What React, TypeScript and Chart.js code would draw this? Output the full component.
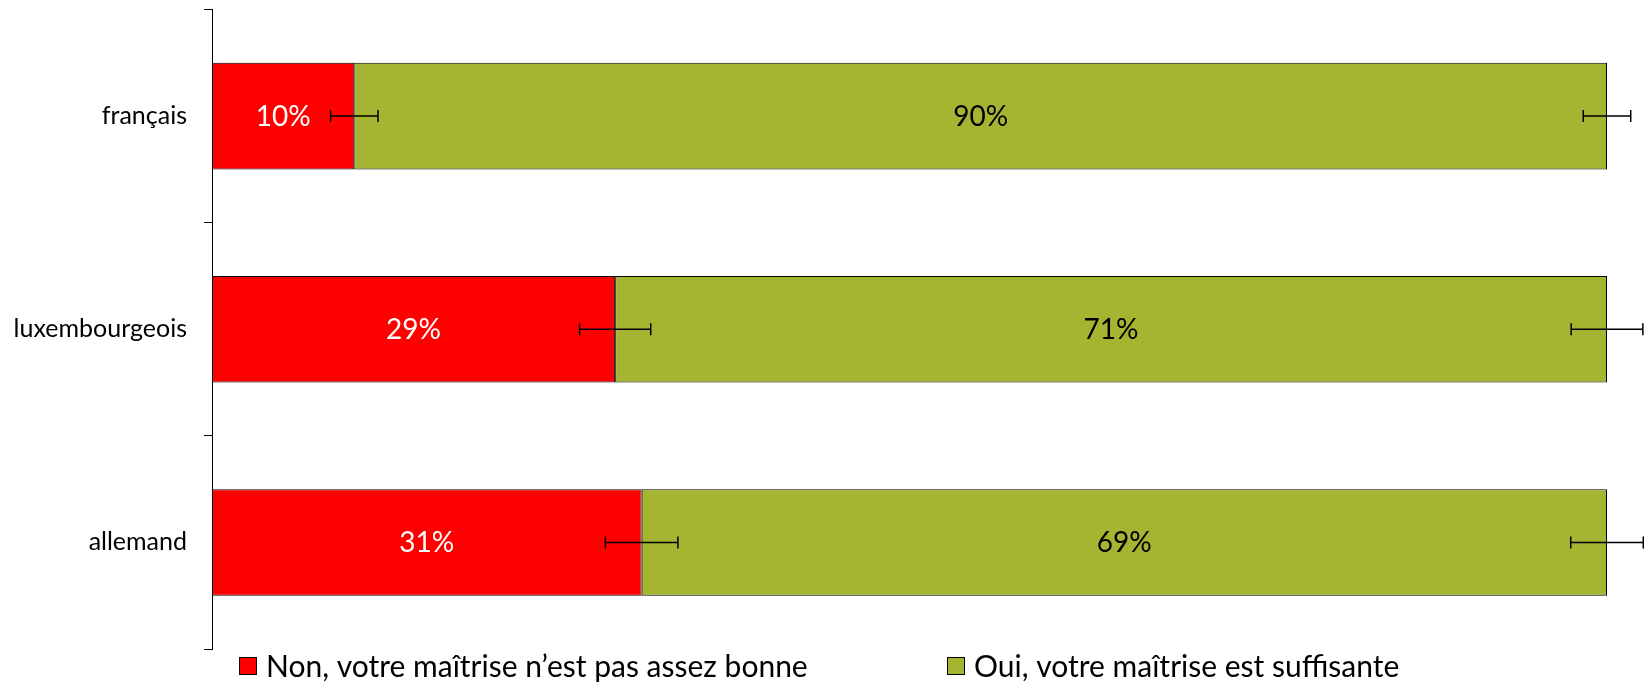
import React, { useEffect, useRef } from "react";
import { Chart, registerables } from "chart.js";
Chart.register(...registerables);

const categories = ["français", "luxembourgeois", "allemand"];
const seriesLabels = [
  "Non, votre maîtrise n’est pas assez bonne",
  "Oui, votre maîtrise est suffisante",
];
const nonValues = [10.2, 28.9, 30.8];
const ouiValues = [89.8, 71.1, 69.2];
const nonErrors = [1.7, 2.55, 2.6];
const ouiErrors = [1.7, 2.57, 2.6];
const nonLabels = ["10%", "29%", "31%"];
const ouiLabels = ["90%", "71%", "69%"];

const RED = "#FF0000";
const GREEN = "rgb(165,181,50)";
const FONT = "Lato, 'Open Sans', sans-serif";

const errorsBySeries = [nonErrors, ouiErrors];
const labelsBySeries = [nonLabels, ouiLabels];
const labelColors = ["#FFFFFF", "#000000"];

const errorBarPlugin = {
  id: "errorBars",
  afterDatasetsDraw(chart: any) {
    const ctx = chart.ctx;
    const xScale = chart.scales.x;
    ctx.save();
    ctx.strokeStyle = "#000";
    ctx.lineWidth = 1.5;
    chart.data.datasets.forEach((ds: any, d: number) => {
      const meta = chart.getDatasetMeta(d);
      meta.data.forEach((el: any, j: number) => {
        let cum = 0;
        for (let k = 0; k <= d; k++) cum += chart.data.datasets[k].data[j];
        const err = errorsBySeries[d][j];
        const x1 = xScale.getPixelForValue(cum - err);
        const x2 = xScale.getPixelForValue(cum + err);
        const y = el.y;
        const cap = 6;
        ctx.beginPath();
        ctx.moveTo(x1, y);
        ctx.lineTo(x2, y);
        ctx.moveTo(x1, y - cap);
        ctx.lineTo(x1, y + cap);
        ctx.moveTo(x2, y - cap);
        ctx.lineTo(x2, y + cap);
        ctx.stroke();
      });
    });
    ctx.restore();
  },
};

const dataLabelPlugin = {
  id: "segLabels",
  afterDatasetsDraw(chart: any) {
    const ctx = chart.ctx;
    ctx.save();
    ctx.font = `28px ${FONT}`;
    ctx.textAlign = "center";
    ctx.textBaseline = "middle";
    chart.data.datasets.forEach((ds: any, d: number) => {
      const meta = chart.getDatasetMeta(d);
      meta.data.forEach((el: any, j: number) => {
        const p = el.getCenterPoint();
        ctx.fillStyle = labelColors[d];
        ctx.fillText(labelsBySeries[d][j], p.x, p.y + 1);
      });
    });
    ctx.restore();
  },
};

const legendPlugin = {
  id: "customLegend",
  afterDraw(chart: any) {
    const ctx = chart.ctx;
    ctx.save();
    ctx.font = `30px ${FONT}`;
    ctx.textBaseline = "middle";
    ctx.textAlign = "left";
    const boxXs = [231, 939];
    const boxY = 649;
    const box = 18;
    chart.data.datasets.forEach((ds: any, d: number) => {
      const bx = boxXs[d];
      ctx.fillStyle = ds.backgroundColor;
      ctx.fillRect(bx, boxY, box, box);
      ctx.strokeStyle = "#000";
      ctx.lineWidth = 1;
      ctx.strokeRect(bx + 0.5, boxY + 0.5, box - 1, box - 1);
      ctx.fillStyle = "#000";
      ctx.fillText(ds.label, bx + box + 9, boxY + box / 2 + 1);
    });
    ctx.restore();
  },
};

export default function App() {
  const ref = useRef<HTMLCanvasElement>(null);
  useEffect(() => {
    if (!ref.current) return;
    const chart = new Chart(ref.current, {
      type: "bar",
      data: {
        labels: categories,
        datasets: [
          {
            label: seriesLabels[0],
            data: nonValues,
            backgroundColor: RED,
            borderColor: "#000",
            borderWidth: 1,
            borderSkipped: false,
            categoryPercentage: 0.5,
            barPercentage: 1,
          },
          {
            label: seriesLabels[1],
            data: ouiValues,
            backgroundColor: GREEN,
            borderColor: "#000",
            borderWidth: 1,
            borderSkipped: false,
            categoryPercentage: 0.5,
            barPercentage: 1,
          },
        ],
      },
      options: {
        indexAxis: "y",
        responsive: false,
        animation: false,
        layout: { padding: { top: 1.5, right: 38, bottom: 37, left: 0 } },
        plugins: {
          legend: { display: false },
          tooltip: { enabled: false },
        },
        scales: {
          x: {
            stacked: true,
            min: 0,
            max: 100,
            display: false,
          },
          y: {
            stacked: true,
            afterFit: (scale: any) => {
              scale.width = 204;
              scale.paddingTop = 0;
              scale.paddingBottom = 0;
            },
            grid: {
              offset: true,
              drawOnChartArea: false,
              drawTicks: true,
              tickLength: 8,
              color: "#000",
              lineWidth: 1,
            },
            border: { display: true, color: "#000", width: 1 },
            ticks: {
              color: "#000",
              padding: 17,
              font: { family: FONT, size: 25 },
            },
          },
        },
      },
      plugins: [errorBarPlugin, dataLabelPlugin, legendPlugin],
    });
    return () => chart.destroy();
  }, []);
  return (
    <div
      style={{
        position: "fixed",
        left: 0,
        top: 0,
        width: 1645,
        height: 686,
        overflow: "hidden",
        background: "#fff",
      }}
    >
      <canvas
        ref={ref}
        width={1637}
        height={678}
        style={{ position: "absolute", left: 8, top: 8, display: "block" }}
      />
    </div>
  );
}
